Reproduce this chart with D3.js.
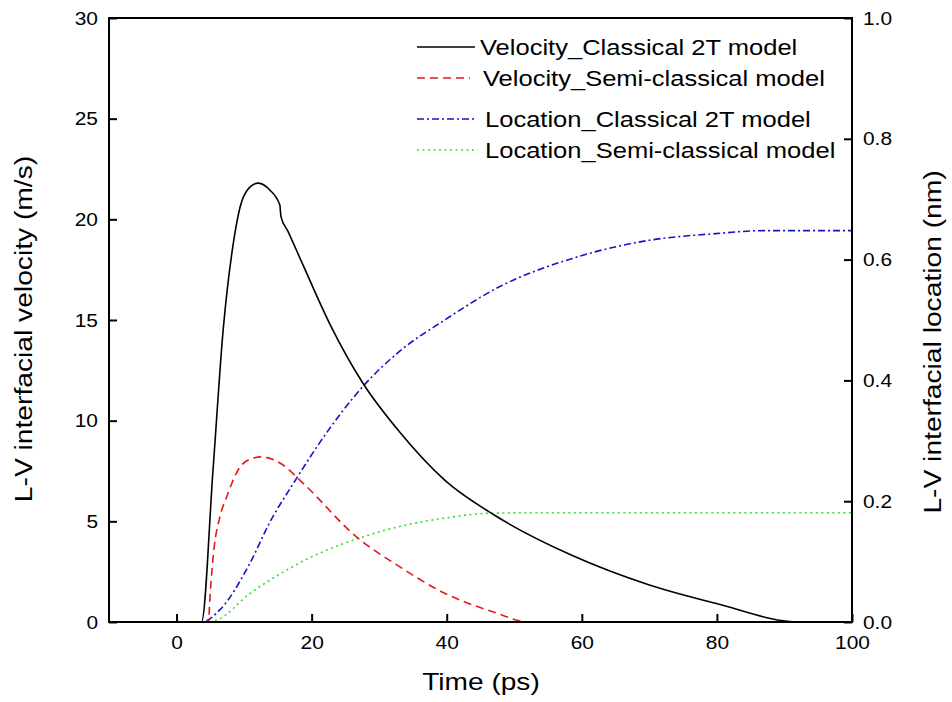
<!DOCTYPE html>
<html>
<head>
<meta charset="utf-8">
<script src="https://cdn.jsdelivr.net/npm/d3@7"></script>
<style>
  body { margin: 0; background: #fff; }
  svg { font-family: Arial, "Liberation Sans", sans-serif; }
</style>
</head>
<body>
<div id="chart"></div>
<script>
// time (ps) / value pairs
const velClassical = [
  [-10, 0], [3.7, 0], [5.4, 7.55], [6.9, 14.5], [8.4, 18.8], [9.4, 20.6], [10.85, 21.6],
  [12.1, 21.8], [13.8, 21.46], [15.3, 20.7], [15.45, 20.15], [16.5, 19.4], [18.7, 17.75],
  [22.7, 14.8], [27.6, 11.86], [33.0, 9.45], [39.7, 7.05], [47.1, 5.3], [58.6, 3.3],
  [70.0, 1.84], [79.8, 0.93], [92.2, 0], [100, 0]
];
const velSemi = [
  [0, 0], [4.7, 0], [5.0, 1.5], [5.5, 3.5], [6.4, 5.2], [7.4, 6.2], [9.4, 7.7], [11, 8.1],
  [12.6, 8.2], [15.3, 7.9], [18.7, 6.9], [26.6, 4.24], [33.0, 2.75], [39.7, 1.43],
  [46.8, 0.51], [52.2, 0], [100, 0]
];
const locClassical = [
  [0, 0], [3.7, 0], [6.4, 0.02], [10.85, 0.097], [13.8, 0.165], [17.5, 0.233], [21.2, 0.297],
  [24.5, 0.348], [27.6, 0.39], [33.0, 0.448], [39.7, 0.5], [47.8, 0.555], [58.6, 0.602],
  [70, 0.632], [79.8, 0.643], [87.2, 0.648], [100, 0.648]
];
const locSemi = [
  [0, 0], [4.5, 0], [5.9, 0.003], [10.85, 0.047], [16.3, 0.086], [21.2, 0.114], [27.1, 0.139],
  [33, 0.158], [39.7, 0.172], [46.3, 0.18], [55, 0.181], [100, 0.181]
];

const xTicks = [0, 20, 40, 60, 80, 100];
const yLeftTicks = [0, 5, 10, 15, 20, 25, 30];
const yRightTicks = [0, 0.2, 0.4, 0.6, 0.8, 1.0];

const legendItems = [
  { label: "Velocity_Classical 2T model", color: "#000000", dash: null, x2: 475, tx: 480 },
  { label: "Velocity_Semi-classical model", color: "#e3191c", dash: "8,5", x2: 470, tx: 483 },
  { label: "Location_Classical 2T model", color: "#1515c8", dash: "7,3,2,3", x2: 477, tx: 485 },
  { label: "Location_Semi-classical model", color: "#2ee02e", dash: "2,3.5", x2: 478, tx: 485 }
];
const legendY = [47, 78, 119, 150];

const W = 952, H = 702;
const margin = { top: 18, right: 100, bottom: 80, left: 109 };
const width = 852 - margin.left;
const height = 622 - margin.top;

// the original font is a little wider than Arial, so stretch text horizontally
function widen(sel, k) {
  sel.each(function () {
    const len = this.getComputedTextLength();
    d3.select(this).attr("textLength", len * k).attr("lengthAdjust", "spacingAndGlyphs");
  });
}

const svg = d3.select("#chart").append("svg")
  .attr("width", W).attr("height", H);
svg.append("rect").attr("width", W).attr("height", H).attr("fill", "#fff");

const g = svg.append("g").attr("transform", `translate(${margin.left},${margin.top})`);

const x = d3.scaleLinear().domain([-10, 100]).range([0, width]);
const yL = d3.scaleLinear().domain([0, 30]).range([height, 0]);
const yR = d3.scaleLinear().domain([0, 1]).range([height, 0]);

const styleAxis = sel => {
  sel.attr("font-family", null).attr("font-size", null);
  sel.select(".domain").remove();
  sel.selectAll(".tick line").attr("stroke", "#000").attr("stroke-width", 2);
  sel.selectAll(".tick text").attr("fill", "#000").style("font-size", "19px").call(widen, 1.1);
};

g.append("g").attr("transform", `translate(0,${height})`)
  .call(d3.axisBottom(x).tickValues(xTicks).tickFormat(d3.format("d")).tickSize(-8).tickPadding(14))
  .call(styleAxis);

g.append("g")
  .call(d3.axisLeft(yL).tickValues(yLeftTicks).tickFormat(d3.format("d")).tickSize(-8).tickPadding(11))
  .call(styleAxis);

g.append("g").attr("transform", `translate(${width},0)`)
  .call(d3.axisRight(yR).tickValues(yRightTicks).tickFormat(d3.format(".1f")).tickSize(-8).tickPadding(11))
  .call(styleAxis);

g.append("clipPath").attr("id", "clip")
  .append("rect").attr("width", width).attr("height", height + 2).attr("y", -1);

const lineL = d3.line().x(d => x(d[0])).y(d => yL(d[1])).curve(d3.curveMonotoneX);
const lineR = d3.line().x(d => x(d[0])).y(d => yR(d[1])).curve(d3.curveMonotoneX);

const series = [
  { data: locSemi, gen: lineR, item: legendItems[3] },
  { data: locClassical, gen: lineR, item: legendItems[2] },
  { data: velSemi, gen: lineL, item: legendItems[1] },
  { data: velClassical, gen: lineL, item: legendItems[0] }
];

g.append("g").attr("clip-path", "url(#clip)")
  .selectAll("path")
  .data(series)
  .join("path")
  .attr("fill", "none")
  .attr("stroke", d => d.item.color)
  .attr("stroke-width", 1.6)
  .attr("stroke-dasharray", d => d.item.dash)
  .attr("d", d => d.gen(d.data));

// frame
g.append("rect")
  .attr("width", width).attr("height", height)
  .attr("fill", "none").attr("stroke", "#000").attr("stroke-width", 2);

// legend
const leg = svg.append("g").selectAll("g")
  .data(legendItems)
  .join("g")
  .attr("transform", (d, i) => `translate(0,${legendY[i]})`);

leg.append("line")
  .attr("x1", 417).attr("x2", d => d.x2)
  .attr("stroke", d => d.color)
  .attr("stroke-width", 1.6)
  .attr("stroke-dasharray", d => d.dash);

leg.append("text")
  .attr("x", d => d.tx)
  .attr("dy", "0.35em")
  .style("font-size", "22px")
  .text(d => d.label)
  .call(widen, 1.16);

// axis titles
svg.append("text")
  .attr("x", 481).attr("y", 690)
  .attr("text-anchor", "middle")
  .style("font-size", "24px")
  .text("Time (ps)")
  .call(widen, 1.17);

svg.append("text")
  .attr("transform", "translate(32,329) rotate(-90)")
  .attr("text-anchor", "middle")
  .style("font-size", "23.5px")
  .text("L-V interfacial velocity (m/s)")
  .call(widen, 1.2);

svg.append("text")
  .attr("transform", "translate(941,342) rotate(-90)")
  .attr("text-anchor", "middle")
  .style("font-size", "23.5px")
  .text("L-V interfacial location (nm)")
  .call(widen, 1.2);
</script>
</body>
</html>
